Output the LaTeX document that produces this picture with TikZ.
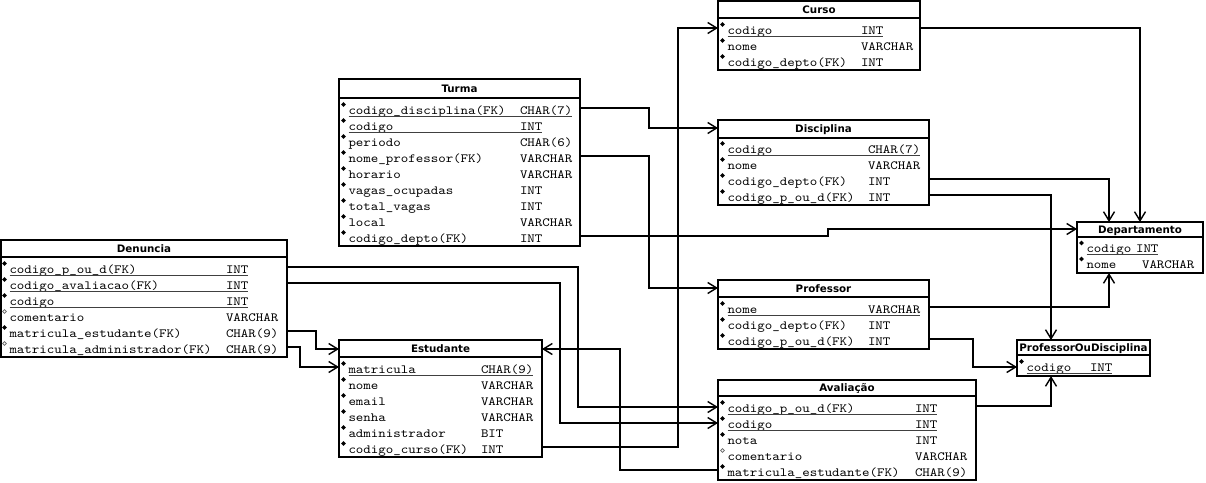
\documentclass[tikz,border=0pt]{standalone}
\usepackage{fontspec}
\usetikzlibrary{arrows.meta,shapes.geometric}
\newfontfamily\erMono{lmmono10-regular.otf}[FakeStretch=1.14]
\newfontfamily\erSans{DejaVu Sans}

\tikzset{
  tbox/.style={draw, line width=1.8pt, rectangle, anchor=north west,
               inner sep=0pt, outer sep=0pt, fill=white},
  sepline/.style={line width=2pt},
  ttitle/.style={font=\erSans\bfseries\fontsize{10.3}{12}\selectfont,
                 inner sep=0pt, anchor=base},
  fname/.style={font=\erMono\fontsize{12.5}{14}\selectfont,
                anchor=base west, inner sep=0pt, outer sep=0pt},
  keyline/.style={line width=1pt, black!75},
  fmark/.style={diamond, fill=black, inner sep=0pt, minimum size=4.8pt},
  omark/.style={circle, draw=black!60, line width=0.7pt, inner sep=0pt,
                minimum size=3.8pt},
  conn/.style={line width=1.4pt, -{Straight Barb[length=9pt,width=11pt]}},
}

% table frame: id, title, left, top, right, bottom, header rule
\newcommand\tbl[7]{%
  \node[tbox, minimum width={#5-#3}, minimum height={#6-#4}] (#1) at (#3,#4) {};
  \draw[sepline] (#1.west |- 0,#7) -- (#1.east |- 0,#7);
  \node[ttitle] (#1-title) at ({(#3+#5)/2},{(#4+#7)/2+3.5}) {#2};
}

% column: table, row no, name x, row y, type x, marker (f/o), key (k/-), name, type
\newcommand\fld[9]{%
  \node[fname] (#1-n#2) at (#3,#4+6) {#8};
  \node[fname] (#1-t#2) at (#5,#4+6) {#9};
  \if f#6
    \node[fmark] (#1-m#2) at (#3-5,#4-3.5) {};
  \else
    \node[omark] (#1-m#2) at (#3-5,#4-3.5) {};
  \fi
  \if k#7
    \draw[keyline] ([yshift=-2pt]#1-n#2.base west) -- ([yshift=-2pt]#1-t#2.base east);
  \fi
}

\begin{document}
\begin{tikzpicture}[x=1pt,y=-1pt]
\fill[white] (0,0) rectangle (1206,482);
\useasboundingbox (0,0) rectangle (1206,482);

% ---------- tables ----------
\tbl{cu}{Curso}{718}{1}{920}{70}{18}
\fld{cu}{1}{727.5}{28}{861}{f}{k}{codigo}{INT}
\fld{cu}{2}{727.5}{44}{861}{f}{-}{nome}{VARCHAR}
\fld{cu}{3}{727.5}{60}{861}{f}{-}{codigo\_depto(FK)}{INT}

\tbl{tu}{Turma}{339}{79}{580}{246}{98}
\fld{tu}{1}{348.5}{108}{520}{f}{k}{codigo\_disciplina(FK)}{CHAR(7)}
\fld{tu}{2}{348.5}{124}{520}{f}{k}{codigo}{INT}
\fld{tu}{3}{348.5}{140}{520}{f}{-}{periodo}{CHAR(6)}
\fld{tu}{4}{348.5}{156}{520}{f}{-}{nome\_professor(FK)}{VARCHAR}
\fld{tu}{5}{348.5}{172}{520}{f}{-}{horario}{VARCHAR}
\fld{tu}{6}{348.5}{188}{520}{f}{-}{vagas\_ocupadas}{INT}
\fld{tu}{7}{348.5}{204}{520}{f}{-}{total\_vagas}{INT}
\fld{tu}{8}{348.5}{220}{520}{f}{-}{local}{VARCHAR}
\fld{tu}{9}{348.5}{236}{520}{f}{-}{codigo\_depto(FK)}{INT}

\tbl{di}{Disciplina}{718}{120}{929}{205}{138}
\fld{di}{1}{727.5}{147}{868}{f}{k}{codigo}{CHAR(7)}
\fld{di}{2}{727.5}{163}{868}{f}{-}{nome}{VARCHAR}
\fld{di}{3}{727.5}{179}{868}{f}{-}{codigo\_depto(FK)}{INT}
\fld{di}{4}{727.5}{195}{868}{f}{-}{codigo\_p\_ou\_d(FK)}{INT}

\tbl{de}{Departamento}{1077}{222}{1203}{273}{237}
\fld{de}{1}{1086.5}{246.5}{1136}{f}{k}{codigo}{INT}
\fld{de}{2}{1086.5}{262.5}{1142}{f}{-}{nome}{VARCHAR}

\tbl{dn}{Denuncia}{1}{240}{287}{357}{257}
\fld{dn}{1}{9.5}{267}{226}{f}{k}{codigo\_p\_ou\_d(FK)}{INT}
\fld{dn}{2}{9.5}{283}{226}{f}{k}{codigo\_avaliacao(FK)}{INT}
\fld{dn}{3}{9.5}{299}{226}{f}{k}{codigo}{INT}
\fld{dn}{4}{9.5}{315}{226}{o}{-}{comentario}{VARCHAR}
\fld{dn}{5}{9.5}{331}{226}{f}{-}{matricula\_estudante(FK)}{CHAR(9)}
\fld{dn}{6}{9.5}{347}{226}{o}{-}{matricula\_administrador(FK)}{CHAR(9)}

\tbl{es}{Estudante}{339}{340}{542}{457}{357}
\fld{es}{1}{348.5}{367}{481}{f}{k}{matricula}{CHAR(9)}
\fld{es}{2}{348.5}{383}{481}{f}{-}{nome}{VARCHAR}
\fld{es}{3}{348.5}{399}{481}{f}{-}{email}{VARCHAR}
\fld{es}{4}{348.5}{415}{481}{f}{-}{senha}{VARCHAR}
\fld{es}{5}{348.5}{431}{481}{f}{-}{administrador}{BIT}
\fld{es}{6}{348.5}{447}{481}{f}{-}{codigo\_curso(FK)}{INT}

\tbl{pr}{Professor}{718}{280}{929}{349}{297}
\fld{pr}{1}{727.5}{307}{868}{f}{k}{nome}{VARCHAR}
\fld{pr}{2}{727.5}{323}{868}{f}{-}{codigo\_depto(FK)}{INT}
\fld{pr}{3}{727.5}{339}{868}{f}{-}{codigo\_p\_ou\_d(FK)}{INT}

\tbl{pd}{ProfessorOuDisciplina}{1017}{340}{1150}{376}{355}
\fld{pd}{1}{1026.5}{365}{1090}{f}{k}{codigo}{INT}

\tbl{av}{Avaliação}{718}{380}{976}{480}{396}
\fld{av}{1}{727.5}{406}{915}{f}{k}{codigo\_p\_ou\_d(FK)}{INT}
\fld{av}{2}{727.5}{422}{915}{f}{k}{codigo}{INT}
\fld{av}{3}{727.5}{438}{915}{f}{-}{nota}{INT}
\fld{av}{4}{727.5}{454}{915}{o}{-}{comentario}{VARCHAR}
\fld{av}{5}{727.5}{470}{915}{f}{-}{matricula\_estudante(FK)}{CHAR(9)}

% ---------- relationships ----------
\draw[conn] (es.east |- 0,447) -| (678,28) -- (cu.west |- 0,28);
\draw[conn] (tu.east |- 0,108) -| (649,128) -- (di.west |- 0,128);
\draw[conn] (tu.east |- 0,156) -| (649,288) -- (pr.west |- 0,288);
\draw[conn] (tu.east |- 0,236) -| (828,229) -- (de.west |- 0,229);
\draw[conn] (cu.east |- 0,28) -| (de.north -| 1140,0);
\draw[conn] (di.east |- 0,179) -| (de.north -| 1109,0);
\draw[conn] (di.east |- 0,195) -| (pd.north -| 1051,0);
\draw[conn] (pr.east |- 0,307) -| (de.south -| 1109,0);
\draw[conn] (pr.east |- 0,339) -| (973,367) -- (pd.west |- 0,367);
\draw[conn] (av.east |- 0,406) -| (pd.south -| 1051,0);
\draw[conn] (dn.east |- 0,267) -| (578,407) -- (av.west |- 0,407);
\draw[conn] (dn.east |- 0,283) -| (560,423) -- (av.west |- 0,423);
\draw[conn] (dn.east |- 0,331) -| (316,349) -- (es.west |- 0,349);
\draw[conn] (dn.east |- 0,347) -| (300,367) -- (es.west |- 0,367);
\draw[conn] (av.west |- 0,470) -| (620,349) -- (es.east |- 0,349);
\end{tikzpicture}
\end{document}
